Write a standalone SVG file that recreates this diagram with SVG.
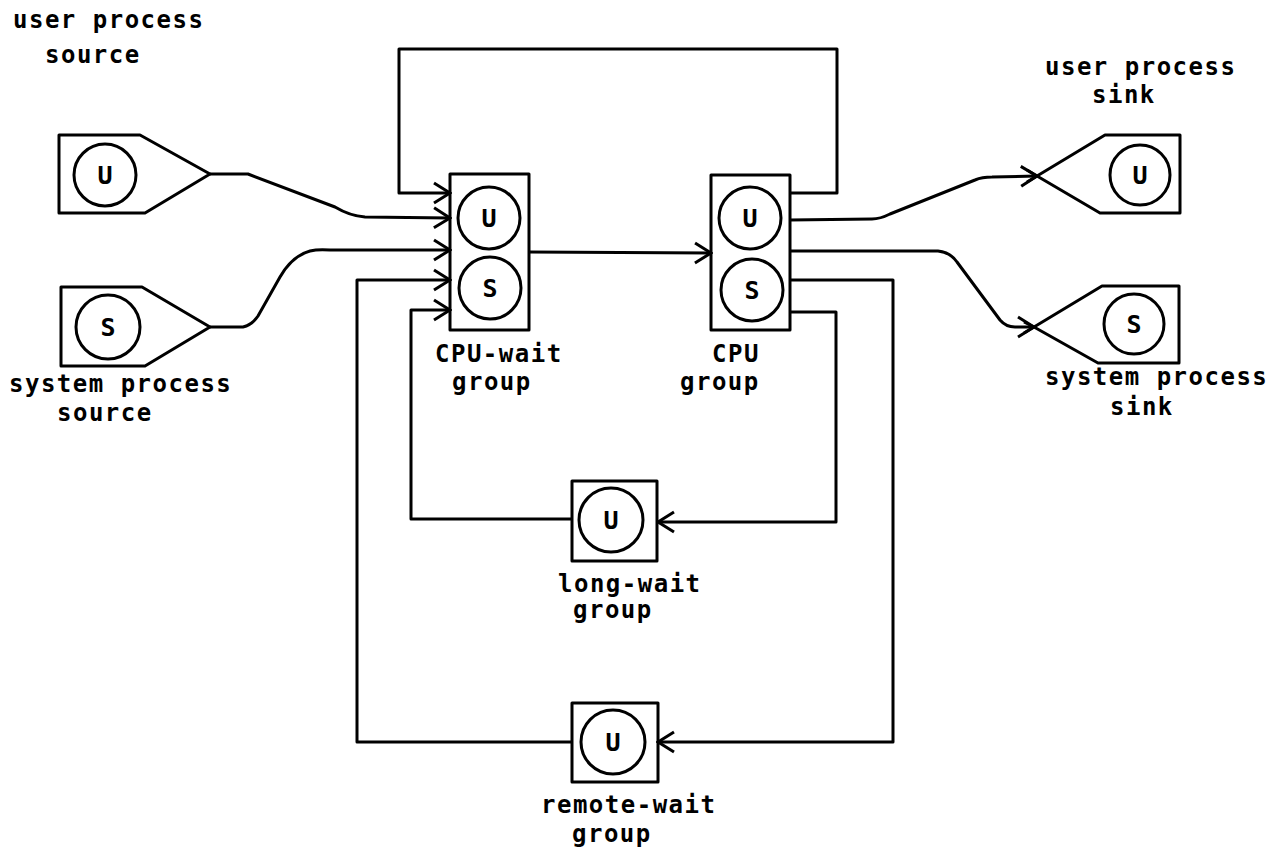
<svg xmlns="http://www.w3.org/2000/svg" width="1285" height="853" viewBox="0 0 1285 853">
<style>
.sh{fill:none;stroke:#000;stroke-width:3;stroke-linejoin:round}
.ln{fill:none;stroke:#000;stroke-width:3;stroke-linejoin:round}
.lb{font-family:"DejaVu Sans Mono","Liberation Mono",monospace;font-weight:bold;font-size:24px;letter-spacing:1.5px;fill:#000}
.cl{font-family:"DejaVu Sans Mono","Liberation Mono",monospace;font-weight:bold;font-size:25px;fill:#000;text-anchor:middle}
</style>
<defs>
<marker id="ah" viewBox="0 0 20 24" refX="18" refY="12" markerWidth="20" markerHeight="24" markerUnits="userSpaceOnUse" orient="auto">
<path d="M2,2 L18,12 L2,22" fill="none" stroke="#000" stroke-width="3"/>
</marker>
</defs>
<rect width="1285" height="853" fill="#fff"/>
<g id="connectors">
<path class="ln" d="M790,193 L837,193 L837,49 L399,49 L399,193 L450,193" marker-end="url(#ah)"/>
<path class="ln" d="M210,174 L248,174 L335,207 Q350,216 365,217 L450,218" marker-end="url(#ah)"/>
<path class="ln" d="M210,327 L243,327 Q252,325 258,316 L280,277 Q292,256 310,251 Q318,249 330,250 L450,250" marker-end="url(#ah)"/>
<path class="ln" d="M529,252 L711,253" marker-end="url(#ah)"/>
<path class="ln" d="M790,220 L872,219 Q880,219 890,214 L975,180 Q982,177 992,177 L1037,176" marker-end="url(#ah)"/>
<path class="ln" d="M790,251 L938,251 Q950,252 957,262 L1000,320 Q1006,327 1015,327 L1034,327" marker-end="url(#ah)"/>
<path class="ln" d="M790,312 L836,312 L836,522 L658,522" marker-end="url(#ah)"/>
<path class="ln" d="M572,519 L411,519 L411,310 L450,310" marker-end="url(#ah)"/>
<path class="ln" d="M790,280 L893,280 L893,742 L658,742" marker-end="url(#ah)"/>
<path class="ln" d="M572,742 L357,742 L357,280 L450,280" marker-end="url(#ah)"/>
</g>
<g id="user-source">
<path class="sh" d="M59,135 L140,135 L210,174 L145,213 L59,213 Z"/>
<circle class="sh" cx="105" cy="175" r="31"/>
<text class="cl" x="105" y="184">U</text>
<text class="lb" x="13" y="28">user process</text>
<text class="lb" x="45" y="63">source</text>
</g>
<g id="system-source">
<path class="sh" d="M61,287 L142,287 L210,327 L145,366 L61,366 Z"/>
<circle class="sh" cx="108" cy="327" r="32"/>
<text class="cl" x="108" y="336">S</text>
<text class="lb" x="9" y="392">system process</text>
<text class="lb" x="57" y="421">source</text>
</g>
<g id="cpu-wait-group">
<rect class="sh" x="450" y="174" width="79" height="156"/>
<circle class="sh" cx="489" cy="218" r="31"/>
<text class="cl" x="489" y="227">U</text>
<circle class="sh" cx="490" cy="288" r="31"/>
<text class="cl" x="490" y="297">S</text>
<text class="lb" x="435" y="362">CPU-wait</text>
<text class="lb" x="452" y="390">group</text>
</g>
<g id="cpu-group">
<rect class="sh" x="711" y="175" width="79" height="155"/>
<circle class="sh" cx="750" cy="218" r="31"/>
<text class="cl" x="750" y="227">U</text>
<circle class="sh" cx="752" cy="290" r="31"/>
<text class="cl" x="752" y="299">S</text>
<text class="lb" x="712" y="362">CPU</text>
<text class="lb" x="680" y="390">group</text>
</g>
<g id="user-sink">
<path class="sh" d="M1180,135 L1105,135 L1037,176 L1100,213 L1180,213 Z"/>
<path class="sh" d="M1037,176 L1027,182 M1037,176 L1027,170"/>
<circle class="sh" cx="1140" cy="175" r="30"/>
<text class="cl" x="1140" y="184">U</text>
<text class="lb" x="1045" y="75">user process</text>
<text class="lb" x="1092" y="103">sink</text>
</g>
<g id="system-sink">
<path class="sh" d="M1179,286 L1102,286 L1034,327 L1098,363 L1179,363 Z"/>
<path class="sh" d="M1034,327 L1024,333 M1034,327 L1024,322"/>
<circle class="sh" cx="1134" cy="324" r="30"/>
<text class="cl" x="1134" y="333">S</text>
<text class="lb" x="1045" y="385">system process</text>
<text class="lb" x="1110" y="415">sink</text>
</g>
<g id="long-wait-group">
<rect class="sh" x="572" y="481" width="85" height="80"/>
<circle class="sh" cx="611" cy="520" r="32"/>
<text class="cl" x="611" y="529">U</text>
<text class="lb" x="558" y="592">long-wait</text>
<text class="lb" x="573" y="618">group</text>
</g>
<g id="remote-wait-group">
<rect class="sh" x="572" y="703" width="86" height="79"/>
<circle class="sh" cx="613" cy="742" r="32"/>
<text class="cl" x="613" y="751">U</text>
<text class="lb" x="541" y="813">remote-wait</text>
<text class="lb" x="572" y="842">group</text>
</g>
</svg>
